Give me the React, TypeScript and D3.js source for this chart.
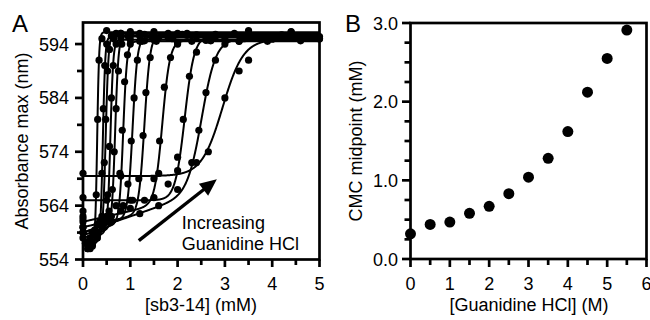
import React from 'react';
import * as d3 from 'd3';

// Panel B data
const guanidine = [0, 0.5, 1, 1.5, 2, 2.5, 3, 3.5, 4, 4.5, 5, 5.5];
const cmcMidpoint = [0.32, 0.44, 0.47, 0.58, 0.67, 0.83, 1.04, 1.28, 1.62, 2.12, 2.55, 2.91];

// Panel A fitted sigmoid parameters (one per guanidine concentration)
const fitMid = [0.3, 0.42, 0.48, 0.58, 0.68, 0.85, 1.05, 1.3, 1.68, 2.15, 2.52, 2.95];
const fitBase = [557, 556.5, 557, 557.5, 558, 558.5, 559, 560, 561, 565, 559, 569.5];
const fitSlope = [0, 2, 2, 3, 3, 3, 3, 2, 2, 0, 3, 0];
const fitWidth = [0.02, 0.025, 0.03, 0.03, 0.035, 0.04, 0.05, 0.06, 0.08, 0.1, 0.15, 0.22];
const fitTop = [596.2, 595.4, 595.9, 594.8, 595.6, 594.5, 595.2, 595.8, 594.7, 595.5, 595.0, 594.9];

// Panel A measured points
const sbConc = [
  [0, 0.05, 0.1, 0.15, 0.2, 0.25, 0.28, 0.31, 0.34, 0.4, 0.5, 0.7, 1.0, 1.5, 2.0],
  [0, 0.1, 0.2, 0.3, 0.35, 0.4, 0.43, 0.46, 0.5, 0.6, 0.8, 1.0, 1.2, 1.6, 2.2],
  [0, 0.1, 0.2, 0.3, 0.4, 0.45, 0.48, 0.52, 0.56, 0.65, 0.8, 1.0, 1.3, 1.8, 2.4],
  [0, 0.15, 0.3, 0.45, 0.52, 0.56, 0.6, 0.64, 0.7, 0.8, 1.0, 1.3, 1.9, 2.6],
  [0, 0.2, 0.4, 0.55, 0.62, 0.66, 0.7, 0.75, 0.82, 0.95, 1.2, 1.5, 2.1, 2.8],
  [0, 0.25, 0.5, 0.7, 0.78, 0.83, 0.88, 0.94, 1.0, 1.2, 1.5, 2.0, 2.7, 3.3],
  [0, 0.3, 0.6, 0.85, 0.95, 1.02, 1.08, 1.15, 1.25, 1.45, 1.8, 2.4, 3.0, 3.7],
  [0, 0.4, 0.8, 1.05, 1.18, 1.27, 1.33, 1.42, 1.55, 1.8, 2.2, 2.8, 3.5, 4.2],
  [0, 0.5, 1.0, 1.3, 1.5, 1.62, 1.72, 1.85, 2.0, 2.3, 2.7, 3.3, 4.0, 4.6],
  [0, 0.5, 1.0, 1.5, 1.8, 2.0, 2.12, 2.25, 2.4, 2.7, 3.2, 3.8, 4.4, 5.0],
  [0, 0.6, 1.2, 1.6, 2.0, 2.3, 2.45, 2.6, 2.8, 3.0, 3.4, 4.0, 4.6, 5.0],
  [0, 0.8, 1.6, 2.0, 2.4, 2.65, 3.0, 3.3, 3.5, 3.9, 4.4, 5.0],
];
const absMax = [
  [559, 557, 556, 556, 557, 559, 566, 580, 591, 595, 596.5, 596, 596, 596.3, 596],
  [558, 556, 556.5, 558, 561, 570, 582, 590, 594, 595.5, 596, 595.5, 595.5, 595.2, 595.6],
  [559, 557, 557, 558, 562, 572, 580, 589, 593, 595, 596, 596.3, 595.8, 596, 595.7],
  [560, 558, 559, 561, 566, 575, 584, 590, 594, 595, 594.8, 594.6, 595, 594.7],
  [560, 559, 560, 563, 567, 574, 582, 589, 594, 595.5, 596, 595.5, 595.8, 595.4],
  [561, 559.5, 561, 564, 570, 578, 587, 592, 594, 594.5, 594.8, 594.3, 594.6, 594.5],
  [561.5, 560.5, 562, 564, 568, 576, 584, 591, 594.5, 595.5, 595.2, 595.4, 595, 595.3],
  [562, 561, 563, 565, 569, 577, 585, 591.5, 594.5, 595.5, 596, 595.8, 596.5, 595.7],
  [563, 562, 563.5, 565, 569, 576, 586, 591.5, 594, 594.5, 594.7, 594.5, 594.9, 594.6],
  [565.5, 565, 565, 565.5, 568, 573, 580, 588, 592.5, 595.5, 596, 595.5, 596.2, 595.4],
  [559, 561, 562.5, 564, 567, 572, 578, 585, 591, 594, 595, 595.2, 594.8, 595],
  [570, 569.5, 570, 570.5, 572, 574, 584, 589, 591, 594.5, 596.3, 595],
];

const xTicksA = [0, 1, 2, 3, 4, 5];
const yTicksA = [554, 564, 574, 584, 594];
const xTicksB = [0, 1, 2, 3, 4, 5, 6];
const yTicksB = [0, 1, 2, 3];

const FONT = '"Liberation Sans", Arial, Helvetica, sans-serif';
const AXW = 2.7;

export default function App() {
  // Panel A scales
  const xA = d3.scaleLinear().domain([0, 5]).range([83, 319.5]);
  const yA = d3.scaleLinear().domain([554, 598]).range([259.5, 22.5]);
  // Panel B scales
  const xB = d3.scaleLinear().domain([0, 6]).range([410.5, 646.5]);
  const yB = d3.scaleLinear().domain([0, 3]).range([259, 23]);

  const fit = (i: number, x: number) => {
    const base = fitBase[i] + fitSlope[i] * x;
    const s = 1 / (1 + Math.exp(-(x - fitMid[i]) / fitWidth[i]));
    return base + (fitTop[i] - base) * s;
  };
  const line = d3.line<number>();
  const xs = d3.range(0, 5.0001, 0.005);

  const minorA = d3.range(0.5, 5, 1);
  const minorAy = d3.range(559, 598, 10);
  const minorB = d3.range(0.5, 6, 1);
  const minorBy = d3.range(0.25, 3, 0.25).filter((v) => Math.abs(v - Math.round(v)) > 0.01);

  const frame = (x0: number, x1: number, y0: number, y1: number) => (
    <rect x={x0} y={y1} width={x1 - x0} height={y0 - y1} fill="none" stroke="#000" strokeWidth={AXW} />
  );

  // arrow (annotation) in data coordinates
  const ax0 = xA(1.18), ay0 = yA(557.5);
  const ax1 = xA(2.83), ay1 = yA(568.9);
  const dx = ax1 - ax0, dy = ay1 - ay0;
  const len = Math.hypot(dx, dy);
  const ux = dx / len, uy = dy / len;
  const headL = 17, headW = 7.5;
  const bx = ax1 - ux * headL, by = ay1 - uy * headL;
  const px = -uy, py = ux;

  return (
    <svg width={650} height={320} style={{ position: 'absolute', left: 0, top: 0 }} fontFamily={FONT}>
      <rect width={650} height={320} fill="#fff" />
      {/* Panel A */}
      <text x={12} y={32} fontSize={24}>A</text>
      {fitMid.map((_, i) => (
        <path
          key={'c' + i}
          d={line(xs.map((x) => [xA(x), yA(fit(i, x))]) as any) || ''}
          fill="none"
          stroke="#000"
          strokeWidth={2}
        />
      ))}
      {sbConc.map((row, i) =>
        row.map((x, j) => <circle key={`p${i}-${j}`} cx={xA(x)} cy={yA(absMax[i][j])} r={3.6} fill="#000" />)
      )}
      {frame(83, 319.5, 259.5, 22.5)}
      {xTicksA.map((t) => (
        <g key={'xa' + t}>
          <line x1={xA(t)} x2={xA(t)} y1={259.5} y2={267} stroke="#000" strokeWidth={AXW} />
          <text x={xA(t)} y={290} fontSize={18} textAnchor="middle">{t}</text>
        </g>
      ))}
      {minorA.map((t) => (
        <line key={'xam' + t} x1={xA(t)} x2={xA(t)} y1={259.5} y2={265} stroke="#000" strokeWidth={AXW} />
      ))}
      {yTicksA.map((t) => (
        <g key={'ya' + t}>
          <line x1={75} x2={83} y1={yA(t)} y2={yA(t)} stroke="#000" strokeWidth={AXW} />
          <text x={69} y={yA(t) + 6.5} fontSize={18} textAnchor="end">{t}</text>
        </g>
      ))}
      {minorAy.map((t) => (
        <line key={'yam' + t} x1={77} x2={83} y1={yA(t)} y2={yA(t)} stroke="#000" strokeWidth={AXW} />
      ))}
      <text x={201} y={311} fontSize={18} textAnchor="middle">[sb3-14] (mM)</text>
      <text transform={`translate(28,141) rotate(-90)`} fontSize={18} textAnchor="middle">Absorbance max (nm)</text>
      {/* arrow */}
      <line x1={ax0} y1={ay0} x2={bx + ux * 2} y2={by + uy * 2} stroke="#000" strokeWidth={3.4} />
      <path
        d={`M${ax1},${ay1} L${bx + px * headW},${by + py * headW} L${bx - px * headW},${by - py * headW} Z`}
        fill="#000"
      />
      <text x={xA(2.09)} y={229} fontSize={18}>Increasing</text>
      <text x={xA(2.09)} y={250} fontSize={18}>Guanidine HCl</text>

      {/* Panel B */}
      <text x={345} y={32} fontSize={24}>B</text>
      {guanidine.map((g, i) => (
        <circle key={'b' + i} cx={xB(g)} cy={yB(cmcMidpoint[i])} r={5.5} fill="#000" />
      ))}
      {frame(410.5, 646.5, 259, 23)}
      {xTicksB.map((t) => (
        <g key={'xb' + t}>
          <line x1={xB(t)} x2={xB(t)} y1={259} y2={267} stroke="#000" strokeWidth={AXW} />
          <text x={xB(t)} y={290} fontSize={18} textAnchor="middle">{t}</text>
        </g>
      ))}
      {minorB.map((t) => (
        <line key={'xbm' + t} x1={xB(t)} x2={xB(t)} y1={259} y2={265} stroke="#000" strokeWidth={AXW} />
      ))}
      {yTicksB.map((t) => (
        <g key={'yb' + t}>
          <line x1={402} x2={410.5} y1={yB(t)} y2={yB(t)} stroke="#000" strokeWidth={AXW} />
          <text x={398} y={yB(t) + 6.5} fontSize={18} textAnchor="end">{t.toFixed(1)}</text>
        </g>
      ))}
      {minorBy.map((t) => (
        <line key={'ybm' + t} x1={404.5} x2={410.5} y1={yB(t)} y2={yB(t)} stroke="#000" strokeWidth={AXW} />
      ))}
      <text x={529} y={311} fontSize={18} textAnchor="middle">[Guanidine HCl] (M)</text>
      <text transform={`translate(362,141) rotate(-90)`} fontSize={18} textAnchor="middle">CMC midpoint (mM)</text>
    </svg>
  );
}
